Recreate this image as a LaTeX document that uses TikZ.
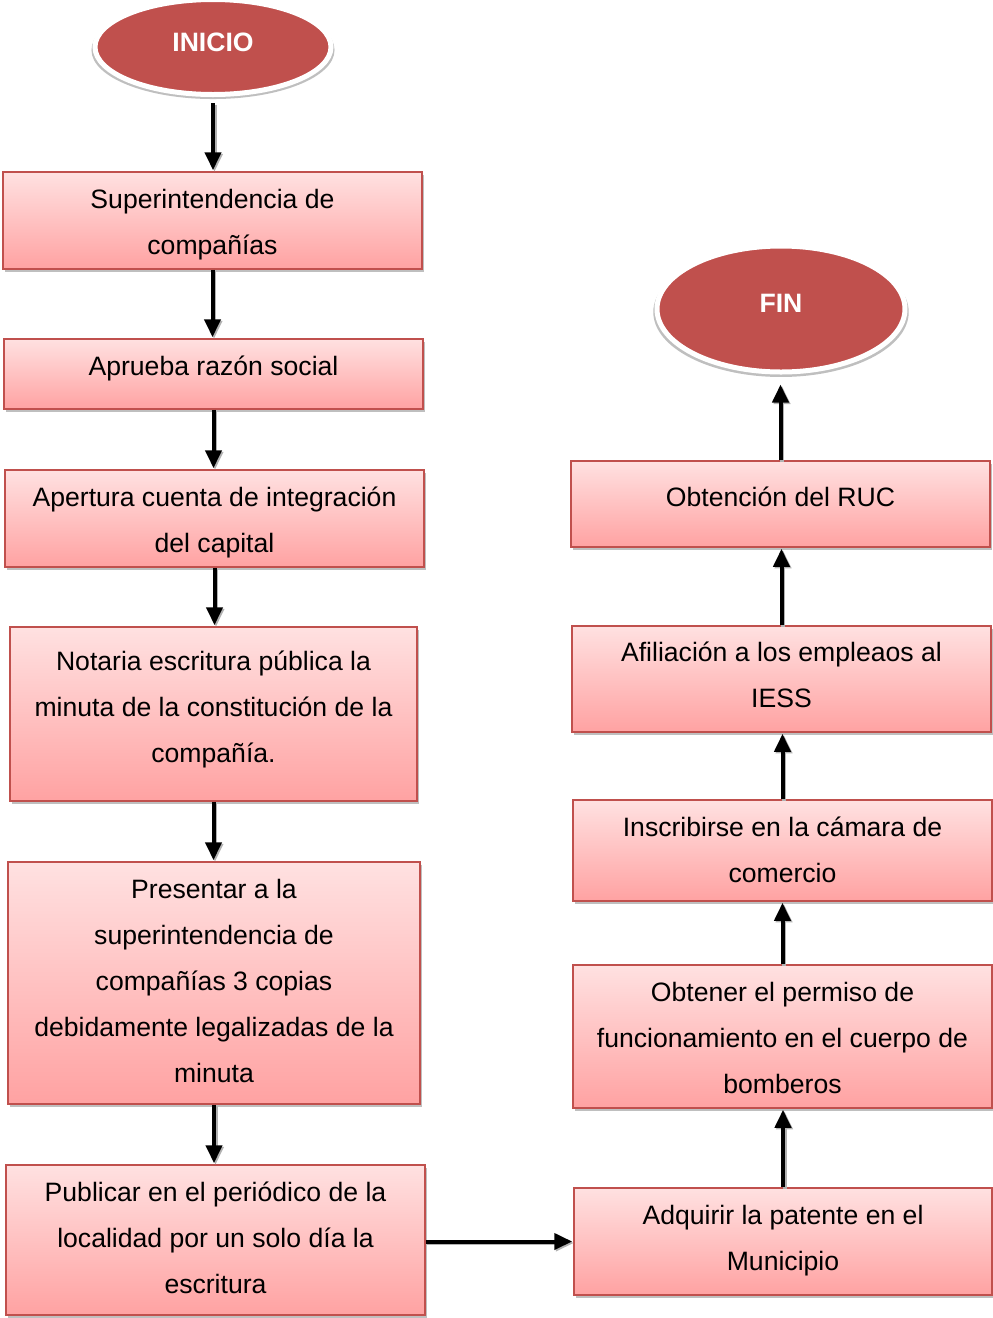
\documentclass[tikz,border=0pt]{standalone}
\usepackage{fontspec}
\setmainfont{Liberation Sans}
\usetikzlibrary{shadows,arrows.meta,shapes.geometric}
\definecolor{accent}{HTML}{C0504D}
\definecolor{pinktop}{HTML}{FFE1E1}
\definecolor{pinkbot}{HTML}{FFA2A2}
% box text: lines on a 46pt strut grid, shifted up by the optional amount
% while the node still sees the unshifted size
\newcommand\boxlines[2][0pt]{\raisebox{#1}[\height][\depth]{\begin{tabular}{@{}c@{}}#2\end{tabular}}}
\newcommand\lifted[2]{\raisebox{#1}[\height][\depth]{#2}}
\tikzset{
  stepbox/.style={draw=accent, line width=1.5pt, top color=pinktop, bottom color=pinkbot,
    inner sep=0pt, font=\fontsize{26.6}{46}\selectfont,
    drop shadow={shadow xshift=2pt, shadow yshift=-3pt, opacity=0.25, fill=black}},
  terminal/.style={ellipse, fill=accent, draw=white, line width=5pt, text=white, inner sep=0pt,
    font=\bfseries\fontsize{26.6}{32}\selectfont,
    drop shadow={shadow scale=1.03, shadow xshift=0pt, shadow yshift=-3pt, opacity=0.25, fill=black, draw=none}},
  flow/.style={line width=4pt, -{Triangle[length=18pt,width=16pt]},
    preaction={draw=black!30, line width=4pt, -{Triangle[length=18pt,width=16pt]},
      transform canvas={xshift=1.5pt,yshift=-1.5pt}}}
}
\begin{document}
\begin{tikzpicture}[x=1pt,y=-1pt]
  \useasboundingbox (0,0) rectangle (993,1318);
  % start and end
  \node[terminal, minimum width=236pt, minimum height=95pt] (ini) at (213,47) {\lifted{5pt}{INICIO}};
  \node[terminal, minimum width=248pt, minimum height=126pt] (fin) at (781,309) {\lifted{6pt}{FIN}};
  % left column
  \node[stepbox, minimum width=419pt, minimum height=97pt] (s1) at (212.5,220.5) {\boxlines[-2pt]{Superintendencia de\\compañías}};
  \node[stepbox, minimum width=419pt, minimum height=70pt] (s2) at (213.5,374) {\boxlines[8pt]{Aprueba razón social}};
  \node[stepbox, minimum width=419pt, minimum height=97pt] (s3) at (214.5,518.5) {\boxlines[-2pt]{Apertura cuenta de integración\\del capital}};
  \node[stepbox, minimum width=407pt, minimum height=174pt] (s4) at (213.5,714) {\boxlines[7pt]{Notaria escritura pública la\\minuta de la constitución de la\\compañía.}};
  \node[stepbox, minimum width=412pt, minimum height=242pt] (s5) at (214,983) {\boxlines[2pt]{Presentar a la\\superintendencia de\\compañías 3 copias\\debidamente legalizadas de la\\minuta}};
  \node[stepbox, minimum width=419pt, minimum height=150pt] (s6) at (215.5,1240) {\boxlines[2pt]{Publicar en el periódico de la\\localidad por un solo día la\\escritura}};
  % right column
  \node[stepbox, minimum width=418pt, minimum height=107pt] (s7) at (783,1241.5) {\boxlines[3pt]{Adquirir la patente en el\\Municipio}};
  \node[stepbox, minimum width=419pt, minimum height=143pt] (s8) at (782.5,1036.5) {\boxlines[-2pt]{Obtener el permiso de\\funcionamiento en el cuerpo de\\bomberos}};
  \node[stepbox, minimum width=419pt, minimum height=101pt] (s9) at (782.5,850.5) {\boxlines{Inscribirse en la cámara de\\comercio}};
  \node[stepbox, minimum width=419pt, minimum height=106pt] (s10) at (781.5,679) {\boxlines[4pt]{Afiliación a los empleaos al\\IESS}};
  \node[stepbox, minimum width=419pt, minimum height=86pt] (s11) at (780.5,504) {\boxlines[7pt]{Obtención del RUC}};
  % connectors
  \draw[flow, shorten <=6pt, shorten >=1pt] (ini.south) -- (ini.south |- s1.north);
  \draw[flow, shorten >=1pt] (s1.south) -- (s1.south |- s2.north);
  \draw[flow, shorten >=1pt] (s2.south) -- (s2.south |- s3.north);
  \draw[flow, shorten >=1pt] (s3.south) -- (s3.south |- s4.north);
  \draw[flow, shorten >=1pt] (s4.south) -- (s4.south |- s5.north);
  \draw[flow, shorten >=1pt] (s5.south) -- (s5.south |- s6.north);
  \draw[flow, shorten >=1pt] (s6.east |- s7.west) -- (s7.west);
  \draw[flow, shorten >=1pt] (s7.north) -- (s7.north |- s8.south);
  \draw[flow, shorten >=1pt] (s8.north) -- (s8.north |- s9.south);
  \draw[flow, shorten >=1pt] (s9.north) -- (s9.north |- s10.south);
  \draw[flow, shorten >=1pt] (s10.north) -- (s10.north |- s11.south);
  \draw[flow, shorten >=10pt] (s11.north) -- (s11.north |- fin.south);
\end{tikzpicture}
\end{document}
